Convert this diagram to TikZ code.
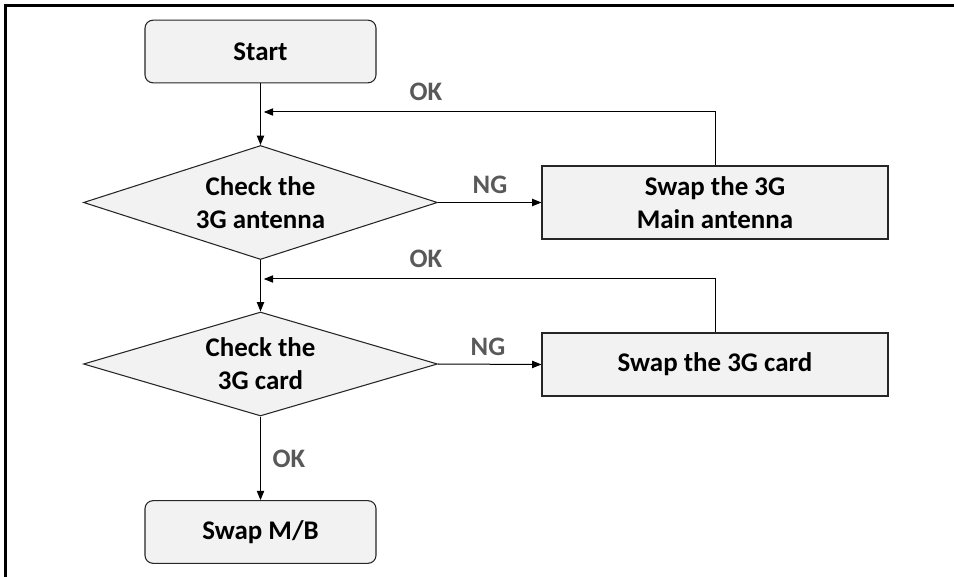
\documentclass[tikz,border=0pt]{standalone}
\usepackage{fontspec}
\setmainfont{Carlito}
\usetikzlibrary{shapes.geometric,arrows.meta}
\definecolor{boxfill}{HTML}{F2F2F2}
\definecolor{lblgray}{HTML}{595959}
\definecolor{edge}{HTML}{262626}
\tikzset{
  base/.style={draw=edge, fill=boxfill, line width=0.8pt, inner sep=0pt, align=center,
    font=\fontsize{20.2}{24.8}\selectfont\bfseries},
  term/.style={base, rounded corners=6pt, minimum width=173.25pt, minimum height=47pt},
  proc/.style={base, minimum width=259.5pt},
  decide/.style={base, shape=diamond, minimum width=265.5pt},
  conn/.style={draw=black, line width=0.75pt},
  arr/.style={conn, -{Triangle[length=7pt,width=5.5pt]}},
  lbl/.style={text=lblgray, font=\fontsize{20}{24}\selectfont\bfseries, inner sep=0pt},
}
\begin{document}
\begin{tikzpicture}[x=0.75pt,y=-0.75pt]
\useasboundingbox (0,0) rectangle (954,577);
\draw[line width=2.4pt] (5.5,600) -- (5.5,5.5) -- (960,5.5);

\node[term] (start) at (260.5,51.5) {Start};
\node[decide, minimum height=85.5pt, aspect=3.1] (d1) at (260.5,202.5) {Check the\\3G antenna};
\node[decide, minimum height=78pt, aspect=3.4] (d2) at (260.5,364) {Check the\\3G card};
\node[proc, minimum height=54.75pt] (s1) at (715,202.5) {Swap the 3G\\Main antenna};
\node[proc, minimum height=47.25pt] (s2) at (715,364.5) {Swap the 3G card};
\node[term] (mb) at (260.5,532) {Swap M/B};

\coordinate (j1) at (260.5,112);
\coordinate (j2) at (260.5,279);

\draw[arr] (start) -- (d1);
\draw[arr] (d1) -- (d2);
\draw[arr] (d2) -- (mb);
\draw[arr] (d1.east) -- (s1.west);
\draw[arr] (d2.east) -- (s2.west);
\draw[conn, -{Triangle[length=7pt,width=5.5pt]}, shorten >=2.5pt] (s1.north) |- (j1);
\draw[conn, -{Triangle[length=7pt,width=5.5pt]}, shorten >=2.5pt] (s2.north) |- (j2);

\node[lbl] (ok1) at (426,92) {OK};
\node[lbl] (ok2) at (426,259) {OK};
\node[lbl] (ok3) at (289,459) {OK};
\node[lbl] (ng1) at (490,185) {NG};
\node[lbl] (ng2) at (488,347) {NG};
\end{tikzpicture}
\end{document}
